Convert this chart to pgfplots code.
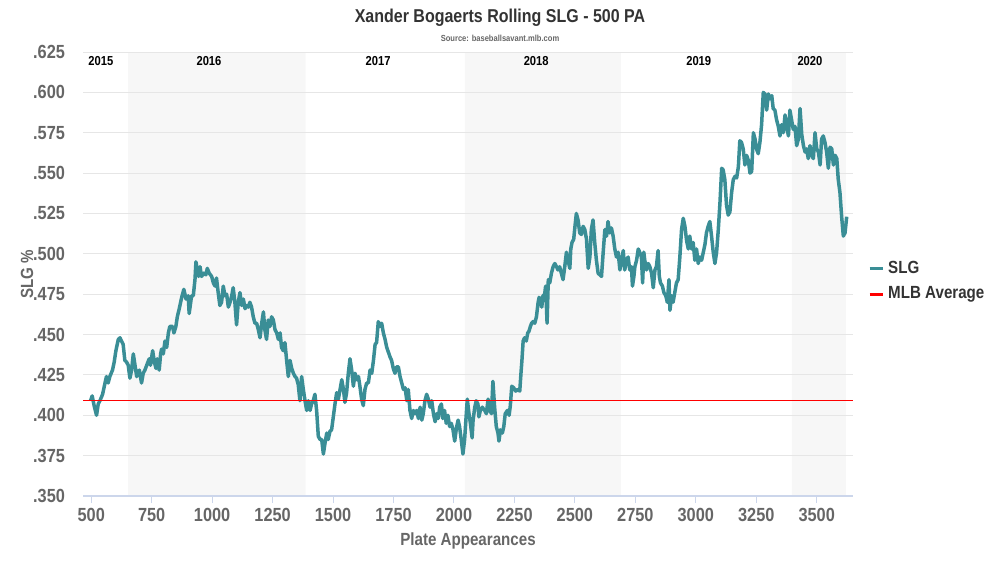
\documentclass[border=0pt]{standalone}
\usepackage{pgfplots}
\pgfplotsset{compat=1.18}
\usepackage{fontspec}
\setmainfont[FakeStretch=0.86]{Liberation Sans}
\definecolor{slgteal}{HTML}{3A8E96}
\definecolor{bandgray}{HTML}{F7F7F7}
\definecolor{gridgray}{HTML}{E6E6E6}
\definecolor{axisblue}{HTML}{CCD6EB}
\definecolor{labelgray}{HTML}{666666}
\definecolor{titlecol}{HTML}{333333}
\begin{document}
\begin{tikzpicture}
\path (0,0) rectangle (500pt,281.5pt);
\node[font=\fontsize{9.3}{11}\selectfont\bfseries, text=titlecol] at (250pt,272.5pt) {Xander Bogaerts Rolling SLG - 500 PA};
\node[font=\fontsize{4.4}{5}\selectfont\bfseries, text=labelgray] at (250pt,262.5pt) {Source: baseballsavant.mlb.com};
\begin{axis}[
  at={(41.5pt,33.5pt)}, anchor=south west,
  scale only axis, width=385pt, height=222pt,
  set layers,
  xmin=466, xmax=3650, ymin=0.35, ymax=0.625,
  axis x line*=bottom, axis y line*=left,
  y axis line style={draw=none},
  x axis line style={draw=axisblue, line width=0.6pt},
  ytick={0.35,0.375,0.4,0.425,0.45,0.475,0.5,0.525,0.55,0.575,0.6,0.625},
  yticklabels={.350,.375,.400,.425,.450,.475,.500,.525,.550,.575,.600,.625},
  ytick style={draw=none},
  xtick={500,750,1000,1250,1500,1750,2000,2250,2500,2750,3000,3250,3500},
  xticklabels={500,750,1000,1250,1500,1750,2000,2250,2500,2750,3000,3250,3500},
  xtick style={draw=axisblue, line width=0.5pt},
  tick align=outside, major tick length=3.5pt,
  ymajorgrids, grid style={draw=gridgray, line width=0.5pt},
  ticklabel style={font=\fontsize{9.5}{11}\selectfont\bfseries, text=labelgray},
  yticklabel style={xshift=-2pt},
  xticklabel style={yshift=1pt},
  legend style={at={(1.019,0.483)}, anchor=west, draw=none, fill=none,
    font=\fontsize{8.8}{10}\selectfont\bfseries, text=titlecol,
    row sep=1.2pt, inner sep=0pt},
  legend cell align=left,
  legend image code/.code={\draw[#1, line width=1.6pt] (0pt,0pt) -- (6.5pt,0pt);},
]
\addplot[draw=none, fill=bandgray, on layer=axis background, forget plot] coordinates {(653,0.35) (1387,0.35) (1387,0.625) (653,0.625) (653,0.35)};
\addplot[draw=none, fill=bandgray, on layer=axis background, forget plot] coordinates {(2045,0.35) (2690,0.35) (2690,0.625) (2045,0.625) (2045,0.35)};
\addplot[draw=none, fill=bandgray, on layer=axis background, forget plot] coordinates {(3397,0.35) (3621,0.35) (3621,0.625) (3397,0.625) (3397,0.35)};
\addplot[color=slgteal, line width=1.75pt, line join=round, mark=none] table {
x y
497 .409
504 .412
512 .406
522 .400
529 .407
536 .409
547 .413
557 .420
563 .424
570 .420
577 .424
588 .428
595 .433
602 .440
612 .447
619 .448
625 .446
632 .444
639 .434
646 .433
653 .431
660 .423
667 .428
674 .438
681 .431
688 .424
699 .428
708 .420
715 .426
722 .428
732 .432
740 .435
745 .431
754 .440
761 .433
768 .429
773 .435
781 .428
787 .438
791 .441
798 .438
805 .446
812 .442
819 .451
825 .455
836 .455
842 .451
850 .455
856 .461
864 .466
874 .473
883 .478
892 .472
901 .474
905 .463
915 .474
922 .474
929 .484
933 .495
939 .490
944 .486
950 .492
956 .486
966 .488
974 .487
980 .491
988 .488
998 .486
1005 .482
1012 .480
1018 .485
1025 .476
1032 .468
1039 .470
1046 .480
1053 .474
1060 .475
1067 .467
1074 .470
1081 .474
1087 .479
1094 .470
1101 .456
1108 .470
1115 .476
1122 .468
1129 .472
1136 .466
1143 .468
1150 .467
1156 .470
1163 .467
1170 .461
1177 .457
1184 .457
1191 .453
1198 .448
1205 .457
1212 .464
1218 .453
1225 .447
1232 .459
1239 .455
1246 .461
1253 .459
1260 .453
1267 .451
1274 .447
1281 .451
1287 .442
1294 .440
1301 .445
1308 .434
1315 .424
1322 .434
1329 .429
1336 .426
1343 .424
1349 .423
1356 .419
1363 .409
1370 .424
1377 .416
1384 .409
1391 .403
1398 .409
1405 .403
1411 .407
1418 .409
1425 .413
1432 .403
1439 .387
1446 .385
1453 .385
1460 .376
1467 .383
1474 .389
1480 .385
1487 .390
1494 .391
1501 .399
1508 .407
1515 .414
1522 .410
1529 .416
1536 .422
1543 .416
1549 .408
1556 .414
1563 .426
1570 .435
1577 .428
1584 .418
1591 .426
1598 .422
1605 .424
1611 .418
1618 .410
1625 .406
1632 .416
1639 .420
1646 .420
1653 .428
1660 .426
1667 .434
1674 .444
1680 .445
1687 .458
1694 .455
1701 .457
1708 .451
1715 .447
1722 .442
1729 .439
1736 .436
1742 .434
1749 .429
1756 .426
1763 .430
1770 .430
1777 .424
1784 .420
1791 .416
1798 .417
1805 .409
1811 .416
1818 .403
1825 .398
1832 .403
1839 .401
1846 .403
1853 .398
1860 .405
1867 .397
1873 .401
1880 .409
1887 .413
1894 .410
1901 .405
1908 .409
1915 .401
1922 .396
1929 .401
1935 .398
1941 .405
1948 .407
1954 .398
1961 .403
1968 .395
1975 .400
1982 .393
1989 .395
1996 .391
2003 .384
2010 .392
2017 .397
2023 .393
2030 .385
2037 .376
2044 .385
2051 .401
2055 .410
2062 .401
2068 .395
2075 .386
2079 .397
2086 .405
2092 .409
2099 .407
2103 .399
2109 .403
2117 .405
2127 .403
2134 .401
2141 .410
2148 .403
2155 .401
2161 .421
2168 .405
2175 .393
2182 .389
2186 .384
2192 .391
2200 .389
2206 .393
2212 .401
2221 .403
2228 .400
2233 .406
2239 .418
2247 .417
2255 .415
2265 .416
2272 .415
2277 .426
2281 .434
2286 .446
2292 .448
2299 .446
2305 .451
2310 .452
2316 .455
2321 .457
2327 .458
2334 .457
2341 .461
2348 .470
2352 .473
2357 .472
2363 .467
2368 .474
2375 .475
2379 .480
2385 .457
2390 .484
2396 .482
2403 .488
2410 .492
2417 .494
2424 .492
2430 .490
2437 .492
2444 .488
2451 .484
2458 .492
2465 .501
2472 .496
2479 .491
2483 .503
2488 .507
2495 .509
2501 .518
2506 .525
2513 .521
2520 .513
2527 .512
2534 .517
2541 .515
2548 .509
2555 .491
2562 .498
2568 .515
2575 .521
2582 .507
2589 .496
2596 .488
2603 .487
2610 .486
2617 .501
2624 .515
2631 .511
2637 .520
2644 .513
2651 .516
2658 .511
2665 .503
2672 .498
2679 .501
2686 .490
2693 .496
2700 .502
2706 .490
2713 .496
2720 .498
2727 .490
2734 .492
2738 .480
2744 .486
2748 .492
2755 .496
2762 .503
2768 .501
2775 .498
2780 .482
2785 .501
2789 .496
2796 .490
2803 .494
2810 .492
2817 .488
2824 .479
2831 .490
2837 .492
2844 .502
2849 .486
2854 .482
2862 .480
2868 .476
2876 .474
2882 .470
2889 .484
2893 .465
2900 .474
2906 .470
2913 .476
2920 .482
2927 .484
2934 .498
2941 .515
2948 .522
2955 .517
2962 .508
2969 .503
2975 .511
2982 .503
2989 .507
2996 .496
3003 .503
3010 .494
3017 .498
3024 .496
3031 .501
3038 .506
3044 .513
3051 .517
3058 .520
3065 .511
3072 .501
3079 .494
3086 .501
3093 .515
3100 .532
3107 .553
3113 .552
3120 .546
3127 .530
3134 .524
3141 .526
3148 .538
3155 .546
3162 .548
3169 .547
3176 .554
3182 .570
3189 .569
3196 .565
3203 .555
3210 .561
3217 .558
3224 .550
3231 .551
3238 .575
3245 .571
3251 .565
3258 .562
3265 .569
3272 .580
3279 .600
3286 .599
3293 .589
3300 .599
3307 .596
3314 .598
3320 .590
3327 .589
3334 .583
3341 .579
3348 .573
3355 .580
3362 .575
3369 .586
3376 .579
3383 .573
3389 .589
3396 .583
3403 .577
3410 .579
3417 .567
3424 .571
3431 .590
3438 .574
3445 .567
3452 .563
3458 .565
3465 .559
3472 .567
3479 .561
3486 .559
3493 .575
3500 .565
3507 .563
3514 .555
3520 .571
3527 .573
3534 .569
3541 .563
3548 .553
3555 .566
3562 .565
3569 .555
3576 .561
3583 .559
3589 .546
3596 .538
3603 .523
3610 .511
3617 .513
3624 .523
};
\addlegendentry{SLG}
\addplot[color=red, line width=0.55pt, mark=none] coordinates {(466,0.409) (3650,0.409)};
\addlegendentry{MLB Average}
\node[font=\fontsize{6.5}{7}\selectfont\bfseries, text=black] at (axis cs:540,0.6195) {2015};
\node[font=\fontsize{6.5}{7}\selectfont\bfseries, text=black] at (axis cs:987,0.6195) {2016};
\node[font=\fontsize{6.5}{7}\selectfont\bfseries, text=black] at (axis cs:1686,0.6195) {2017};
\node[font=\fontsize{6.5}{7}\selectfont\bfseries, text=black] at (axis cs:2340,0.6195) {2018};
\node[font=\fontsize{6.5}{7}\selectfont\bfseries, text=black] at (axis cs:3012,0.6195) {2019};
\node[font=\fontsize{6.5}{7}\selectfont\bfseries, text=black] at (axis cs:3472,0.6195) {2020};
\end{axis}
\node[font=\fontsize{8.8}{10}\selectfont\bfseries, text=labelgray] at (234pt,11pt) {Plate Appearances};
\node[font=\fontsize{8.8}{10}\selectfont\bfseries, text=labelgray, rotate=90] at (13.5pt,144.5pt) {SLG \%};
\end{tikzpicture}
\end{document}
